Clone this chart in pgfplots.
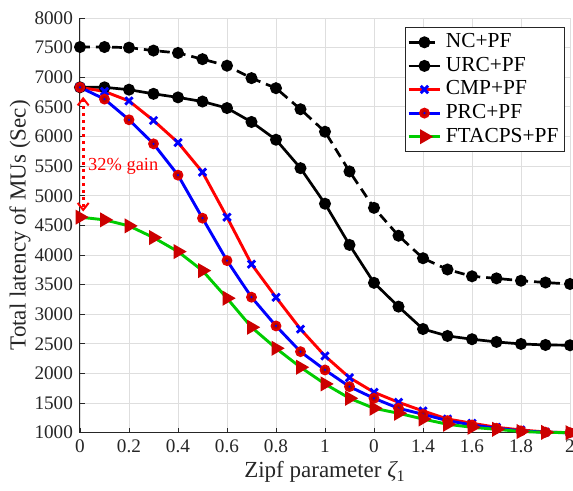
\documentclass[border=0pt]{standalone}
\usepackage{pgfplots}
\pgfplotsset{compat=1.18}
\usetikzlibrary{arrows.meta}
\usepackage{fontspec}
\setmainfont{Liberation Serif}
\definecolor{axgray}{RGB}{38,38,38}
\definecolor{gridgray}{RGB}{222,222,222}
\definecolor{mygreen}{RGB}{0,204,0}
\definecolor{tri}{RGB}{204,0,0}
\definecolor{prcedge}{RGB}{225,0,0}
\definecolor{prcfill}{RGB}{190,0,0}
\pgfdeclareplotmark{ringdot}{%
  \pgfpathcircle{\pgfpointorigin}{\pgfplotmarksize}%
  \pgfsetstrokecolor{prcedge}\pgfsetfillcolor{prcfill}%
  \pgfusepathqfillstroke
  \pgfpathcircle{\pgfpointorigin}{0.28\pgfplotmarksize}%
  \pgfsetfillcolor{blue}\pgfusepathqfill
}
\pgfplotstableread{
x    nc    urc   cmp   prc   ft
0.0  7510  6830  6830  6830  4638
0.1  7510  6830  6760  6631  4593
0.2  7500  6790  6600  6282  4491
0.3  7450  6720  6270  5876  4294
0.4  7410  6660  5898  5347  4057
0.5  7305  6590  5398  4621  3736
0.6  7195  6480  4638  3905  3270
0.7  6985  6245  3845  3287  2780
0.8  6815  5945  3285  2802  2425
0.9  6460  5465  2748  2368  2105
1.0  6080  4865  2295  2059  1823
1.1  5410  4170  1929  1777  1581
1.2  4795  3530  1682  1581  1412
1.3  4325  3128  1513  1412  1328
1.4  3945  2750  1367  1311  1231
1.5  3755  2633  1231  1203  1142
1.6  3640  2578  1159  1130  1091
1.7  3605  2532  1091  1074  1057
1.8  3565  2498  1046  1030  1020
1.9  3535  2481  1012  1008  1005
2.0  3510  2476  1000  1000  1000
}\datatable
\begin{document}
\begin{tikzpicture}
\begin{axis}[
  scale only axis,
  width=245pt, height=207.35pt,
  xmin=0, xmax=2, ymin=1000, ymax=8000,
  xtick={0,0.2,0.4,0.6,0.8,1,1.2,1.4,1.6,1.8,2},
  xticklabels={0,0.2,0.4,0.6,0.8,1,0,1.4,1.6,1.8,2},
  ytick={1000,1500,...,8000},
  /pgf/number format/assume math mode=true,
  yticklabel style={/pgf/number format/1000 sep={}, font=\fontsize{9.6}{11}\selectfont, text=axgray},
  xticklabel style={font=\fontsize{9.6}{11}\selectfont, text=axgray},
  scaled y ticks=false,
  axis x line*=bottom, axis y line*=left,
  axis line style={axgray, line width=0.5pt, -},
  tick style={axgray, line width=0.4pt},
  tick align=inside, major tick length=2.5pt,
  grid=major, major grid style={gridgray, line width=0.4pt},
  clip=false,
  xlabel={Zipf parameter {\itshape ζ}\textsubscript{1}},
  ylabel={Total latency of MUs (Sec)},
  every axis x label/.style={at={(axis description cs:0.5,-0.0948)}, anchor=center, font=\fontsize{11.5}{13}\selectfont, text=axgray},
  every axis y label/.style={at={(axis description cs:-0.1224,0.5)}, anchor=center, rotate=90, font=\fontsize{11.5}{13}\selectfont, text=axgray},
  legend style={at={(axis description cs:1,1)}, anchor=north east, xshift=-2.5pt, yshift=-4.5pt,
    draw=axgray, line width=0.5pt, fill=white, font=\fontsize{10.7}{12}\selectfont,
    inner xsep=1pt, inner ysep=1.5pt, row sep=0pt,
    nodes={text height=7.6pt, text depth=2.2pt, inner ysep=1pt},
    cells={anchor=west}},
  legend image code/.code={\draw[mark repeat=2,mark phase=2] plot coordinates {(0cm,0cm)(0.28cm,0cm)(0.56cm,0cm)};},
]
\addplot[black, line width=1.35pt, dash pattern=on 5pt off 3pt, mark=*, mark size=2.3pt, mark options={solid, fill=black}] table[x=x,y=nc] {\datatable};
\addlegendentry{NC+PF}
\addplot[black, line width=1.35pt, mark=*, mark size=2.3pt, mark options={solid, fill=black}] table[x=x,y=urc] {\datatable};
\addlegendentry{URC+PF}
\addplot[red, line width=1.45pt, mark=x, mark size=2.6pt, mark options={blue, line width=1.4pt}] table[x=x,y=cmp] {\datatable};
\addlegendentry{CMP+PF}
\addplot[blue, line width=1.45pt, mark=ringdot, mark size=2.2pt, mark options={line width=1pt}] table[x=x,y=prc] {\datatable};
\addlegendentry{PRC+PF}
\addplot[mygreen, line width=1.45pt, mark=triangle*, mark size=2.9pt, mark options={tri, fill=tri, rotate=-90}] table[x=x,y=ft] {\datatable};
\addlegendentry{FTACPS+PF}
\draw[red, line width=1.5pt, dotted, {Straight Barb[length=3.5pt,width=5.5pt,line width=1pt]}-{Straight Barb[length=3.5pt,width=5.5pt,line width=1pt]}] (axis cs:0.013,6670) -- (axis cs:0.013,4733);
\node[red, anchor=west, font=\fontsize{9.2}{11}\selectfont, inner sep=0pt] at (axis cs:0.032,5500) {32\% gain};
\end{axis}
\pgfresetboundingbox
\path[use as bounding box] (-40pt,-29.15pt) rectangle (246.5pt,216.35pt);
\end{tikzpicture}
\end{document}
